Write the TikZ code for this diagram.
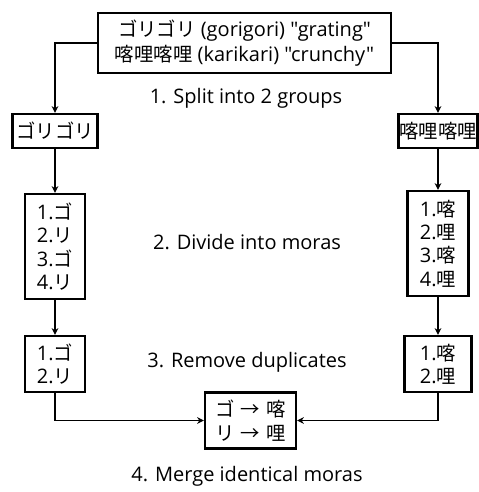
\documentclass[tikz,border=0pt]{standalone}
\usepackage{fontspec}
\setmainfont{Open Sans}[Ligatures=TeXOff]
\newfontfamily\jp{Noto Sans CJK JP}[Scale=0.97]
\newcommand{\ar}{\hspace{0.3em}→\hspace{0.3em}}
\usetikzlibrary{arrows.meta}
\begin{document}
\begin{tikzpicture}[x=0.75pt,y=-0.75pt,
  box/.style={draw,line width=1.8pt,inner sep=0pt,font=\fontsize{15}{17.5}\selectfont},
  lbl/.style={font=\fontsize{15}{17}\selectfont},
  arr/.style={line width=1.4pt,-{Stealth[length=5pt,width=5pt]}}]
\useasboundingbox (0,0) rectangle (478,492);
\node[box,font=\fontsize{15}{19}\selectfont,minimum width=293*0.75pt,minimum height=60*0.75pt,align=center] (top) at (244.5,43)
  {{\jp ゴリゴリ} (gorigori) "grating"\\{\jp 喀哩喀哩} (karikari) "crunchy"};
\node[box,minimum width=85*0.75pt,minimum height=34*0.75pt] (lbox) at (55,131) {\jp ゴリゴリ};
\node[box,minimum width=79*0.75pt,minimum height=34*0.75pt] (rbox) at (438,131) {\jp 喀哩喀哩};
\node[box,minimum width=60*0.75pt,minimum height=105*0.75pt,align=left] (lmora) at (55,246.5)
  {1.{\jp ゴ}\\2.{\jp リ}\\3.{\jp ゴ}\\4.{\jp リ}};
\node[box,minimum width=61*0.75pt,minimum height=105*0.75pt,align=left] (rmora) at (438,243.5)
  {1.{\jp 喀}\\2.{\jp 哩}\\3.{\jp 喀}\\4.{\jp 哩}};
\node[box,minimum width=60*0.75pt,minimum height=56*0.75pt,align=left] (ldup) at (55,364)
  {1.{\jp ゴ}\\2.{\jp リ}};
\node[box,minimum width=67*0.75pt,minimum height=56*0.75pt,align=left] (rdup) at (438,364)
  {1.{\jp 喀}\\2.{\jp 哩}};
\node[box,minimum width=91*0.75pt,minimum height=56*0.75pt,align=center] (merge) at (250.5,420.5)
  {{\jp ゴ\ar 喀}\\{\jp リ\ar 哩}};
\node[lbl] (s1) at (246,98) {1. Split into 2 groups};
\node[lbl] (s2) at (247,242) {2. Divide into moras};
\node[lbl] (s3) at (247,362) {3. Remove duplicates};
\node[lbl] (s4) at (247,476) {4. Merge identical moras};
\draw[arr] (top.west) -| (lbox.north);
\draw[arr] (top.east) -| (rbox.north);
\draw[arr] (lbox.south) -- (lmora.north);
\draw[arr] (rbox.south) -- (rmora.north);
\draw[arr] (lmora.south) -- (ldup.north);
\draw[arr] (rmora.south) -- (rdup.north);
\draw[arr] (ldup.south) |- (merge.west);
\draw[arr] (rdup.south) |- (merge.east);
\end{tikzpicture}
\end{document}
